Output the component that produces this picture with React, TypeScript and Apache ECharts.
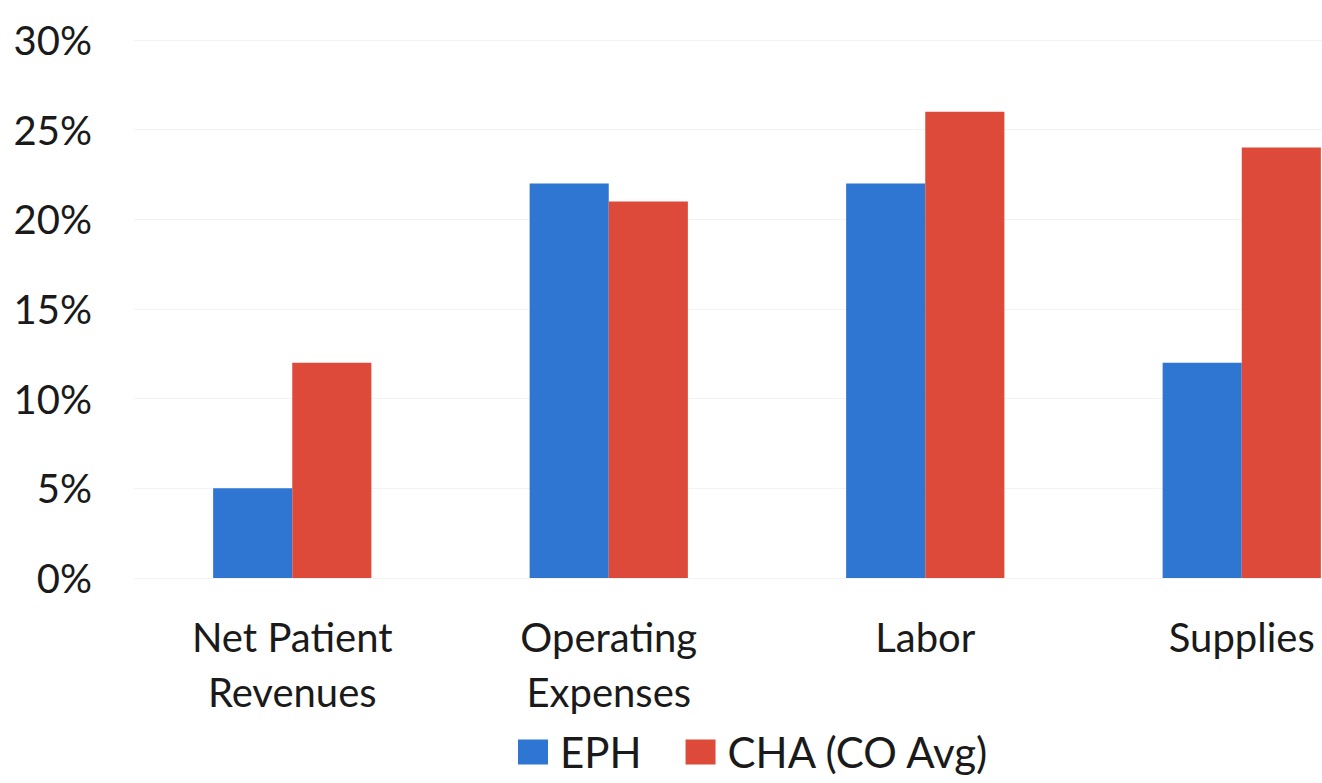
import React, { useEffect, useRef } from "react";
import * as echarts from "echarts";

const categories = ["Net Patient\nRevenues", "Operating\nExpenses", "Labor", "Supplies"];
const ephValues = [5, 22, 22, 12];
const chaValues = [12, 21, 26, 24];
const seriesNames = ["EPH", "CHA (CO Avg)"];

export default function App() {
  const ref = useRef<HTMLDivElement>(null);
  useEffect(() => {
    if (!ref.current) return;
    const chart = echarts.init(ref.current, undefined, { renderer: "svg" });
    const font = "Lato, 'Noto Sans', sans-serif";
    chart.setOption({
      animation: false,
      backgroundColor: "#ffffff",
      grid: { left: 134, right: 0, top: 40, bottom: 205 },
      legend: {
        data: seriesNames,
        left: 518,
        top: 730,
        padding: 0,
        itemWidth: 30,
        itemHeight: 25,
        itemGap: 44,
        icon: "rect",
        textStyle: { fontFamily: font, fontSize: 42, lineHeight: 44, color: "#1a1a1a", padding: [0, 0, 0, 7] },
      },
      xAxis: {
        type: "category",
        data: categories,
        axisLine: { show: false },
        axisTick: { show: false },
        axisLabel: {
          fontFamily: font,
          fontSize: 40,
          color: "#1a1a1a",
          lineHeight: 55,
          margin: 31,
          interval: 0,
        },
      },
      yAxis: {
        type: "value",
        min: 0,
        max: 30,
        interval: 5,
        axisLine: { show: false },
        axisTick: { show: false },
        splitLine: { lineStyle: { color: "#f3f3f3", width: 1 } },
        axisLabel: {
          fontFamily: font,
          fontSize: 40,
          color: "#1a1a1a",
          margin: 42,
          formatter: (v: number) => v + "%",
        },
      },
      series: [
        {
          name: seriesNames[0],
          type: "bar",
          data: ephValues,
          barGap: "0%",
          barCategoryGap: "50%",
          itemStyle: { color: "#2f76d2" },
        },
        {
          name: seriesNames[1],
          type: "bar",
          data: chaValues,
          barGap: "0%",
          barCategoryGap: "50%",
          itemStyle: { color: "#dd4a3a" },
        },
      ],
    });
    return () => chart.dispose();
  }, []);
  return (
    <div style={{ position: "fixed", left: 0, top: 0, width: 1322, height: 783, overflow: "hidden", background: "#fff" }}>
      <div ref={ref} style={{ width: 1400, height: 783 }} />
    </div>
  );
}
